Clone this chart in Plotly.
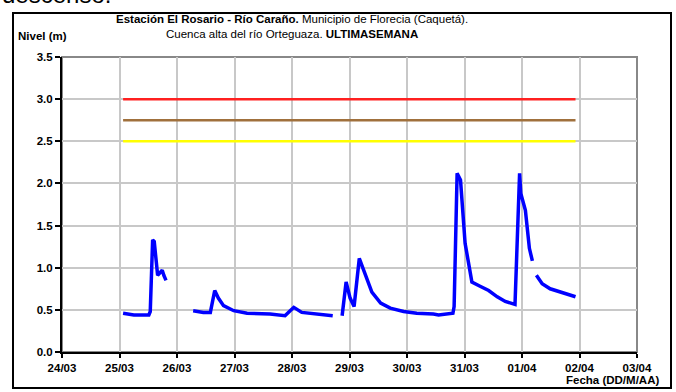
import plotly.graph_objects as go

# ---- data ----
fechas = [
    "2024-03-25 01:30", "2024-03-25 06:00", "2024-03-25 12:15", "2024-03-25 12:50",
    "2024-03-25 13:50", "2024-03-25 14:30", "2024-03-25 15:55", "2024-03-25 17:00",
    "2024-03-25 17:50", "2024-03-25 18:30", "2024-03-25 19:25",
    None,
    "2024-03-26 06:45", "2024-03-26 11:00", "2024-03-26 13:55", "2024-03-26 15:45",
    "2024-03-26 17:15", "2024-03-26 19:25", "2024-03-26 23:40", "2024-03-27 05:15",
    "2024-03-27 14:50", "2024-03-27 21:05", "2024-03-27 23:15", "2024-03-28 00:45",
    "2024-03-28 04:05", "2024-03-28 07:40", "2024-03-28 11:45", "2024-03-28 17:00",
    None,
    "2024-03-28 20:55", "2024-03-28 22:35", "2024-03-29 00:15", "2024-03-29 01:55",
    "2024-03-29 04:05", "2024-03-29 06:30", "2024-03-29 09:20", "2024-03-29 13:00",
    "2024-03-29 17:00", "2024-03-29 22:35", "2024-03-30 04:05", "2024-03-30 11:00",
    "2024-03-30 13:10", "2024-03-30 19:10", "2024-03-30 19:40", "2024-03-30 20:55",
    "2024-03-30 22:20", "2024-03-31 00:15", "2024-03-31 03:05", "2024-03-31 06:30",
    "2024-03-31 10:05", "2024-03-31 13:40", "2024-03-31 17:00", "2024-03-31 21:05",
    "2024-03-31 21:50", "2024-03-31 23:00", "2024-03-31 23:30", "2024-04-01 01:25",
    "2024-04-01 03:05", "2024-04-01 04:20",
    None,
    "2024-04-01 06:00", "2024-04-01 08:25", "2024-04-01 11:45", "2024-04-01 16:05",
    "2024-04-01 19:25", "2024-04-01 22:20",
]
nivel = [
    0.46, 0.44, 0.44, 0.48,
    1.33, 1.31, 0.91, 0.95,
    0.97, 0.91, 0.85,
    None,
    0.49, 0.47, 0.47, 0.73,
    0.64, 0.55, 0.49, 0.46,
    0.45, 0.43, 0.49, 0.53,
    0.47, 0.46, 0.45, 0.43,
    None,
    0.43, 0.83, 0.64, 0.54,
    1.11, 0.93, 0.71, 0.58,
    0.52, 0.48, 0.46, 0.45,
    0.44, 0.46, 0.54, 2.12,
    2.04, 1.29, 0.83, 0.78,
    0.73, 0.655, 0.60, 0.565,
    1.09, 2.12, 1.88, 1.68,
    1.23, 1.08,
    None,
    0.91, 0.81, 0.75, 0.715,
    0.68, 0.655,
]
umbral_rojo = 3.0
umbral_naranja = 2.75
umbral_amarillo = 2.5
umbral_inicio = "2024-03-25 01:30"
umbral_fin = "2024-04-01 22:20"

x_ticks = ["2024-03-24", "2024-03-25", "2024-03-26", "2024-03-27", "2024-03-28", "2024-03-29",
           "2024-03-30", "2024-03-31", "2024-04-01", "2024-04-02", "2024-04-03"]
x_labels = ["24/03", "25/03", "26/03", "27/03", "28/03", "29/03",
            "30/03", "31/03", "01/04", "02/04", "03/04"]
y_ticks = [0.0, 0.5, 1.0, 1.5, 2.0, 2.5, 3.0, 3.5]
y_labels = ["0.0", "0.5", "1.0", "1.5", "2.0", "2.5", "3.0", "3.5"]

FONT = "Liberation Sans, Arial, sans-serif"

# plot area in window pixels
PL, PR, PT, PB = 62, 637, 57, 352
W, H = 676, 392
def px(x):
    return (x - PL) / (PR - PL)
def py(y):
    return (PB - y) / (PB - PT)

fig = go.Figure()
for val, col in [(umbral_rojo, "#ff2020"), (umbral_naranja, "#a0703c"), (umbral_amarillo, "#ffff00")]:
    fig.add_trace(go.Scatter(x=[umbral_inicio, umbral_fin], y=[val, val], mode="lines",
                             line=dict(color=col, width=2.5), hoverinfo="skip"))
fig.add_trace(go.Scatter(x=fechas, y=nivel, mode="lines", connectgaps=False,
                         line=dict(color="#0000ff", width=3.5)))

# plot-area frame (gray top/right)
fig.add_shape(type="rect", xref="paper", yref="paper", x0=0, y0=0, x1=1, y1=1,
              line=dict(color="#888888", width=2), layer="below")
# outer black frame
fig.add_shape(type="rect", xref="paper", yref="paper",
              x0=px(13), y0=py(388), x1=px(671), y1=py(13),
              line=dict(color="black", width=2), layer="above")

fig.update_layout(
    width=W, height=H,
    margin=dict(l=PL, r=W - PR, t=PT, b=H - PB, autoexpand=False),
    paper_bgcolor="white", plot_bgcolor="white",
    showlegend=False,
    font=dict(family=FONT, color="black", size=11),
    xaxis=dict(type="date", range=["2024-03-24", "2024-04-03"],
               tickvals=x_ticks, ticktext=x_labels,
               showgrid=True, gridcolor="#c8c8c8", gridwidth=1.5,
               showline=True, linecolor="black", linewidth=2,
               ticks="outside", ticklen=4, tickcolor="black", tickwidth=1.5,
               tickfont=dict(family=FONT, size=11.5, color="black", weight="bold"),
               zeroline=False, automargin=False),
    yaxis=dict(range=[0, 3.5], tickvals=y_ticks, ticktext=y_labels,
               showgrid=True, gridcolor="#c8c8c8", gridwidth=1.5,
               showline=True, linecolor="black", linewidth=2,
               ticks="outside", ticklen=5, tickcolor="black", tickwidth=1.5,
               tickfont=dict(family=FONT, size=11.5, color="black", weight="bold"),
               zeroline=False, automargin=False),
    annotations=[
        dict(text="<b>Estación El Rosario - Río Caraño.</b> Municipio de Florecia (Caquetá).<br>"
                  "Cuenca alta del río Orteguaza. <b>ULTIMASEMANA</b>",
             xref="paper", yref="paper", x=px(292), y=py(11),
             xanchor="center", yanchor="top", showarrow=False, align="center",
             font=dict(family=FONT, size=11.5, color="black")),
        dict(text="<b>Nivel (m)</b>", xref="paper", yref="paper",
             x=px(16), y=py(36), xanchor="left", yanchor="middle",
             showarrow=False, font=dict(family=FONT, size=11.5, color="black")),
        dict(text="<b>Fecha (DD/M/AA)</b>", xref="paper", yref="paper",
             x=px(661), y=py(380), xanchor="right", yanchor="middle",
             showarrow=False, font=dict(family=FONT, size=11.5, color="black")),
        dict(text="descenso.", xref="paper", yref="paper",
             x=px(0), y=py(10), xanchor="left", yanchor="bottom",
             showarrow=False, font=dict(family=FONT, size=24, color="black")),
    ],
)

fig.write_html("out.html", config={"displayModeBar": False},
               post_script="document.body.style.margin='0';document.body.style.overflow='hidden';")
